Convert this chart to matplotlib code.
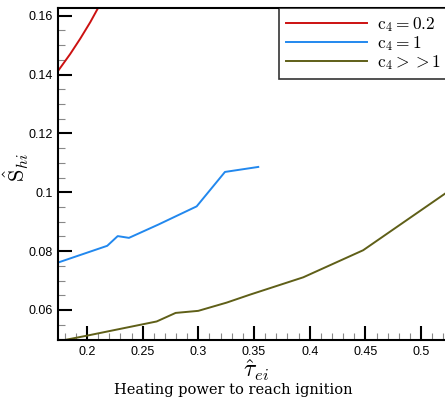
import matplotlib
matplotlib.use('Agg')
import matplotlib.pyplot as plt
from matplotlib.ticker import MultipleLocator

plt.rcParams['mathtext.fontset'] = 'cm'

# c4 = 0.2
tau_red = [0.170, 0.174, 0.185, 0.194, 0.203, 0.212]
s_red = [0.1395, 0.1412, 0.1470, 0.1522, 0.1578, 0.1640]

# c4 = 1
tau_blue = [0.1747, 0.2182, 0.2276, 0.2377, 0.264, 0.2985, 0.3239, 0.3538]
s_blue = [0.0762, 0.0818, 0.0851, 0.0845, 0.0890, 0.0952, 0.1069, 0.1086]

# c4 >> 1
tau_olive = [0.170, 0.1787, 0.2003, 0.2626, 0.2796, 0.2999, 0.3254, 0.3463,
             0.3942, 0.448, 0.5214, 0.53]
s_olive = [0.0485, 0.0497, 0.0513, 0.0561, 0.0590, 0.0597, 0.0625, 0.0652,
           0.0711, 0.0803, 0.0995, 0.1020]

fig = plt.figure(figsize=(4.45, 4.0), dpi=100)
ax = fig.add_axes([58 / 445, 60 / 400, 0.891, 332 / 400])

ax.plot(tau_red, s_red, color='#cc1111', lw=1.4, label=r'$\mathrm{c}_4 = 0.2$')
ax.plot(tau_blue, s_blue, color='#2288ee', lw=1.4, label=r'$\mathrm{c}_4 = 1$')
ax.plot(tau_olive, s_olive, color='#5f5f18', lw=1.4, label=r'$\mathrm{c}_4 >> 1$')

ax.set_xlim(0.174, 0.53)
ax.set_ylim(0.0498, 0.1626)

ax.xaxis.set_minor_locator(MultipleLocator(0.01))
ax.yaxis.set_minor_locator(MultipleLocator(0.005))
ax.set_xticks([0.2, 0.25, 0.3, 0.35, 0.4, 0.45, 0.5])
ax.set_xticklabels(['0.2', '0.25', '0.3', '0.35', '0.4', '0.45', '0.5'])
ax.set_yticks([0.06, 0.08, 0.1, 0.12, 0.14, 0.16])
ax.set_yticklabels(['0.06', '0.08', '0.1', '0.12', '0.14', '0.16'])

ax.tick_params(which='major', direction='in', length=10, width=1.5,
               labelsize=9, pad=4, top=False, right=False)
ax.tick_params(which='minor', direction='in', length=5, width=0.8,
               color='#888888', top=False, right=False)
for lab in ax.get_xticklabels() + ax.get_yticklabels():
    lab.set_family('Liberation Sans')
for sp in ax.spines.values():
    sp.set_linewidth(1.5)

ax.set_xlabel(r'$\hat{\tau}_{ei}$', fontsize=17, labelpad=0)
ax.set_ylabel(r'$\hat{\mathrm{S}}_{hi}$', fontsize=16)
ax.yaxis.set_label_coords(-0.068, 0.52)

leg = ax.legend(loc='upper left', bbox_to_anchor=(279 / 445, 392 / 400),
                bbox_transform=fig.transFigure, fontsize=12.5, handlelength=4.66,
                frameon=True, fancybox=False, edgecolor='black',
                borderaxespad=0, labelspacing=0.0, handletextpad=0.57,
                borderpad=0.4)
leg.get_frame().set_linewidth(1.2)

fig.text(0.525, 0.025, 'Heating power to reach ignition', ha='center',
         va='center', fontsize=10.5, family='DejaVu Serif')

fig.savefig('out.png', dpi=100)
